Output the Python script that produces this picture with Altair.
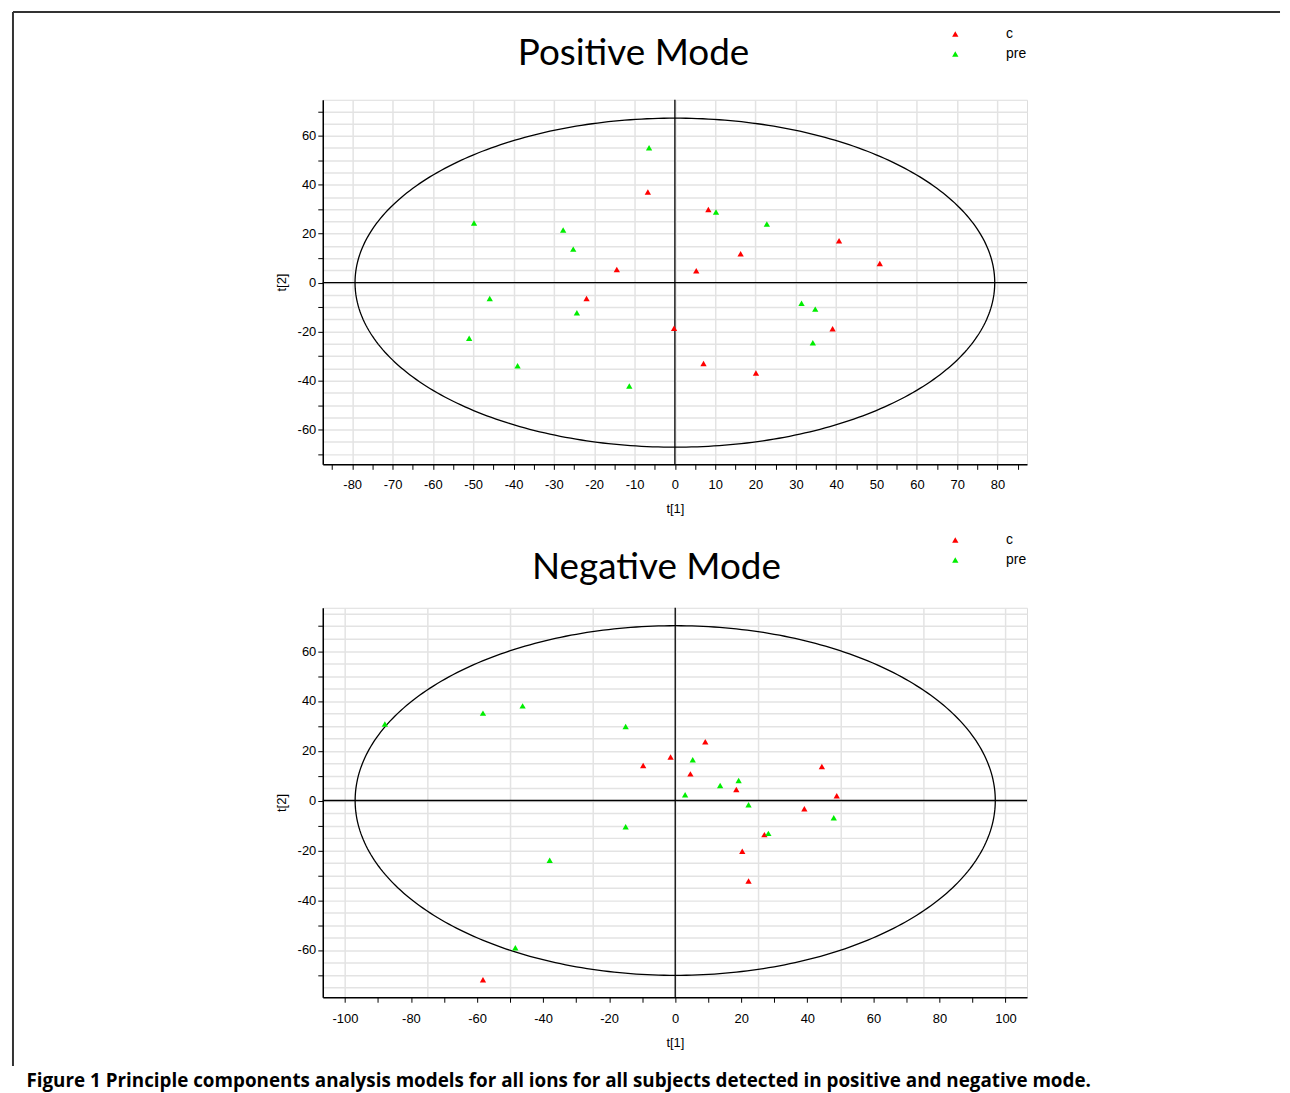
import altair as alt
import numpy as np
import pandas as pd

# ---------------- data ----------------
groups = ["c", "pre"]
group_colors = ["#ff0000", "#00ee00"]

# Positive mode scores
pos_c_x = [-6.7, -14.4, 8.3, 40.7, 16.3, 50.8, 5.3, -21.9, -0.2, 39.1, 7.1, 20.1]
pos_c_y = [37.0, 5.4, 29.9, 17.1, 11.8, 7.8, 4.9, -6.5, -18.6, -18.8, -33.0, -36.9]
pos_pre_x = [-6.4, -49.8, -27.7, -25.2, 10.2, 22.8, -45.9, -24.3, -51.0, -39.0, -11.3, 31.4, 34.8, 34.2]
pos_pre_y = [55.1, 24.4, 21.5, 13.7, 28.9, 24.0, -6.5, -12.3, -22.7, -33.9, -42.2, -8.4, -10.8, -24.5]

# Negative mode scores
neg_c_x = [-9.7, -1.4, 9.1, 4.6, 18.5, 44.4, 48.9, 39.1, 27.0, 20.3, 22.2, -58.2]
neg_c_y = [14.1, 17.5, 23.6, 10.7, 4.4, 13.7, 1.9, -3.3, -13.7, -20.4, -32.3, -72.0]
neg_pre_x = [-87.9, -58.2, -46.2, -15.0, 5.3, 19.2, 13.6, 3.0, 22.2, 48.0, 28.2, -15.0, -38.0, -48.4]
neg_pre_y = [30.7, 35.1, 38.0, 29.7, 16.4, 8.0, 6.0, 2.3, -1.7, -6.9, -13.2, -10.5, -24.0, -59.1]

# Hotelling T2 ellipse semi-axes
pos_ellipse = [79.3, 67.2]
neg_ellipse = [96.9, 70.2]

# axis domains and tick positions
pos_x_domain = [-87.3, 87.3]
pos_y_domain = [-74.2, 74.7]
neg_x_domain = [-106.7, 106.5]
neg_y_domain = [-79.0, 77.4]
pos_x_ticks = list(range(-85, 90, 5))
pos_y_ticks = list(range(-70, 75, 5))
neg_x_ticks = list(range(-105, 110, 5))
neg_y_ticks = list(range(-75, 80, 5))

caption = ("Figure 1 Principle components analysis models for all ions for all "
           "subjects detected in positive and negative mode.")

FONT = "Liberation Sans"


def cond(test, yes, no):
    return {"condition": {"test": test, "value": yes}, "value": no}


def make_axis(title, values, tick_mod, grid_mod, label_mod, label_pad, title_pad):
    return alt.Axis(
        title=title, values=values, grid=True,
        gridColor="#e3e3e3", gridWidth=1.5,
        gridOpacity=cond(f"datum.value % {grid_mod} === 0", 1, 0),
        tickOpacity=cond(f"datum.value % {tick_mod} === 0", 1, 0),
        labelExpr=f"datum.value % {label_mod} === 0 ? '' + datum.value : ''",
        labelOverlap=False, labelFlush=False,
        tickSize=5, tickColor="black", tickWidth=1,
        domainColor="black", domainWidth=1.5,
        labelFont=FONT, labelFontSize=13, labelColor="black", labelPadding=label_pad,
        titleFont=FONT, titleFontSize=13, titleFontWeight="normal", titleColor="black",
        titlePadding=title_pad,
    )


def panel(title_text, title_dx, title_dy, cx, cy, px, py, ell, xdom, ydom,
          xticks, yticks, xmods, ymods, height, legend_y, x_label_pad, extra=()):
    pts = pd.DataFrame({
        "x": cx + px, "y": cy + py,
        "group": [groups[0]] * len(cx) + [groups[1]] * len(px),
    })
    xaxis = make_axis("t[1]", xticks, *xmods, label_pad=x_label_pad, title_pad=11)
    yaxis = make_axis("t[2]", yticks, *ymods, label_pad=2, title_pad=9)
    x_enc = alt.X("x:Q", scale=alt.Scale(domain=xdom, nice=False, zero=False), axis=xaxis)
    y_enc = alt.Y("y:Q", scale=alt.Scale(domain=ydom, nice=False, zero=False), axis=yaxis)

    t = np.linspace(0, 2 * np.pi, 361)
    ell_df = pd.DataFrame({"x": ell[0] * np.cos(t), "y": ell[1] * np.sin(t), "o": np.arange(len(t))})
    ellipse = alt.Chart(ell_df).mark_line(color="black", strokeWidth=1.3).encode(
        x=x_enc, y=y_enc, order="o:Q")
    zero_v = alt.Chart(pd.DataFrame({"x": [0]})).mark_rule(color="black", strokeWidth=1.3).encode(x=x_enc)
    zero_h = alt.Chart(pd.DataFrame({"y": [0]})).mark_rule(color="black", strokeWidth=1.3).encode(y=y_enc)
    points = alt.Chart(pts).mark_point(shape="triangle-up", filled=True, size=40, opacity=1).encode(
        x=x_enc, y=y_enc,
        color=alt.Color("group:N", scale=alt.Scale(domain=groups, range=group_colors),
                        legend=alt.Legend(orient="none", legendX=628, legendY=legend_y, title=None,
                                          symbolType="triangle-up", symbolSize=40, symbolStrokeWidth=0,
                                          labelFont=FONT, labelFontSize=14, labelColor="black",
                                          labelOffset=44, rowPadding=6, padding=0)),
    )
    return alt.layer(ellipse, zero_v, zero_h, points, *extra).properties(
        width=707, height=height,
        title=alt.TitleParams(text=title_text, font="Lato", fontSize=37, fontWeight="normal",
                              color="black", anchor="middle", frame="group", dx=title_dx,
                              dy=title_dy, offset=0),
    )


one = pd.DataFrame({"k": [0]})
frame_top = alt.Chart(one).mark_rule(color="#333", strokeWidth=2).encode(
    x=alt.value(-311), x2=alt.value(961), y=alt.value(-88))
frame_left = alt.Chart(one).mark_rule(color="#333", strokeWidth=2).encode(
    x=alt.value(-311), y=alt.value(-88), y2=alt.value(970))

top = panel("Positive Mode", -41.5, 62, pos_c_x, pos_c_y, pos_pre_x, pos_pre_y, pos_ellipse,
            pos_x_domain, pos_y_domain, pos_x_ticks, pos_y_ticks, (5, 10, 10), (10, 5, 20),
            366, -73, 9, extra=(frame_top, frame_left))
bottom = panel("Negative Mode", -18.5, 54, neg_c_x, neg_c_y, neg_pre_x, neg_pre_y, neg_ellipse,
               neg_x_domain, neg_y_domain, neg_x_ticks, neg_y_ticks, (10, 25, 20), (10, 5, 20),
               391, -75, 10)

chart = alt.vconcat(top, bottom, spacing=144, bounds="flush").resolve_legend(
    color="independent"
).properties(
    padding={"left": 3, "top": 0, "right": 0, "bottom": 0},
    title=alt.TitleParams(text=caption, orient="bottom", anchor="start", font="Open Sans",
                          fontSize=18.9, fontWeight="bold", color="black", offset=5, dx=15),
).configure_view(stroke="black", strokeWidth=1.5).configure(background="white")

chart.save("out.html", embed_options={"renderer": "svg", "actions": False})
